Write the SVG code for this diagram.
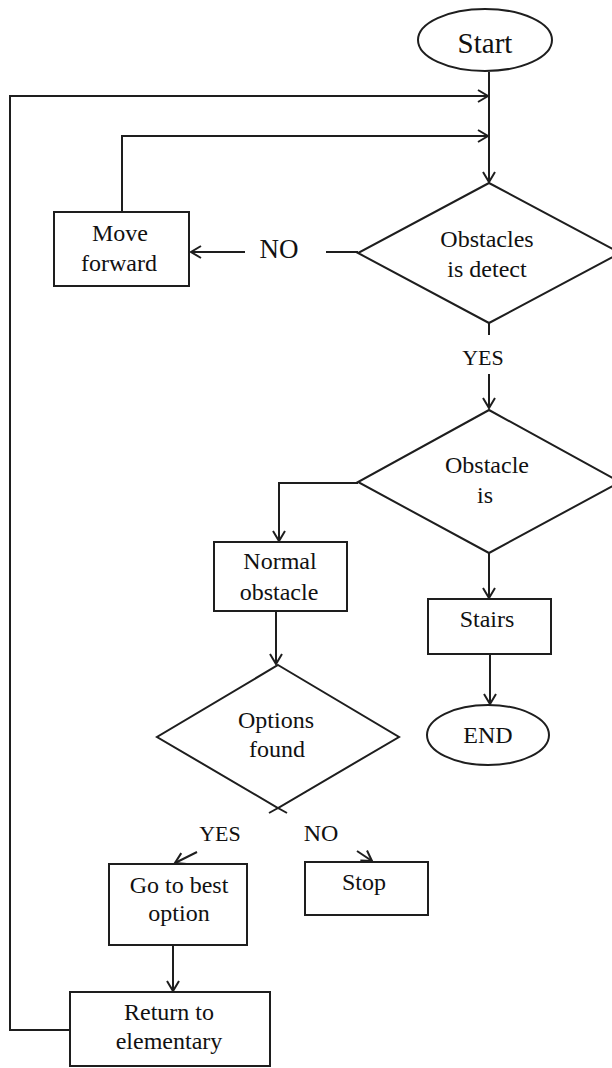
<svg xmlns="http://www.w3.org/2000/svg" width="612" height="1068" viewBox="0 0 612 1068">
<style>
.s{fill:#fff;stroke:#1e1e1e;stroke-width:2}
.c{fill:none;stroke:#1e1e1e;stroke-width:2}
text{font-family:'Liberation Serif','DejaVu Serif',serif;font-size:24px;fill:#111;text-anchor:middle}
.y{font-size:22px}
</style>
<defs>
<marker id="a" markerUnits="userSpaceOnUse" markerWidth="14" markerHeight="14" refX="11" refY="7" orient="auto">
<path d="M1,1 L11,7 L1,13" fill="none" stroke="#1e1e1e" stroke-width="2"/>
</marker>
</defs>
<rect width="612" height="1068" fill="#fff"/>
<g id="connectors">
<path class="c" d="M489,72 V182" marker-end="url(#a)"/>
<path class="c" d="M70,1030 H10 V96 H488" marker-end="url(#a)"/>
<path class="c" d="M122,212 V136 H488" marker-end="url(#a)"/>
<path class="c" d="M358,252 H326"/>
<path class="c" d="M245,252 H191" marker-end="url(#a)"/>
<path class="c" d="M489,323 V335"/>
<path class="c" d="M489,374 V408" marker-end="url(#a)"/>
<path class="c" d="M358,483 H279 V541" marker-end="url(#a)"/>
<path class="c" d="M489,553 V598" marker-end="url(#a)"/>
<path class="c" d="M490,654 V704" marker-end="url(#a)"/>
<path class="c" d="M276,611 V664" marker-end="url(#a)"/>
<path class="c" d="M278,808 L287,813 M278,808 L269,813"/>
<path class="c" d="M197,852 L175,863" marker-end="url(#a)"/>
<path class="c" d="M357,851 L372,861" marker-end="url(#a)"/>
<path class="c" d="M173,945 V991" marker-end="url(#a)"/>
</g>
<g id="start"><ellipse class="s" cx="485" cy="40" rx="67" ry="31"/><text font-family="Liberation Serif, DejaVu Serif, serif" x="485" y="53" style="font-size:29px">Start</text></g>
<g id="obstacles-detect" font-family="Liberation Serif, DejaVu Serif, serif"><polygon class="s" points="489,183 620,253 489,323 358,253"/><text x="487" y="247">Obstacles</text><text x="487" y="277">is detect</text></g>
<g id="move-forward"><rect class="s" x="54" y="212" width="135" height="74"/><text x="120" y="241">Move</text><text x="119" y="271">forward</text></g>
<g id="label-no1"><text x="279" y="258" style="font-size:27px">NO</text></g>
<g id="label-yes1"><text class="y" x="483" y="365">YES</text></g>
<g id="obstacle-is"><polygon class="s" points="489,410 620,482 489,553 358,482"/><text x="487" y="473">Obstacle</text><text x="485" y="503">is</text></g>
<g id="normal-obstacle"><rect class="s" x="214" y="542" width="133" height="69"/><text x="280" y="569">Normal</text><text x="279" y="600">obstacle</text></g>
<g id="stairs"><rect class="s" x="428" y="599" width="123" height="55"/><text x="487" y="627">Stairs</text></g>
<g id="end"><ellipse class="s" cx="488" cy="735" rx="61" ry="30"/><text x="488" y="743">END</text></g>
<g id="options-found"><polygon class="s" points="278,665 399,737 278,808 157,737"/><text x="276" y="728">Options</text><text x="277" y="757">found</text></g>
<g id="label-yes2"><text class="y" x="220" y="841">YES</text></g>
<g id="label-no2"><text x="321" y="841">NO</text></g>
<g id="stop"><rect class="s" x="305" y="862" width="123" height="53"/><text x="364" y="890">Stop</text></g>
<g id="go-best"><rect class="s" x="109" y="864" width="138" height="81"/><text x="179" y="893">Go to best</text><text x="179" y="921">option</text></g>
<g id="return"><rect class="s" x="70" y="992" width="200" height="74"/><text x="169" y="1020">Return to</text><text x="169" y="1049">elementary</text></g>
</svg>
